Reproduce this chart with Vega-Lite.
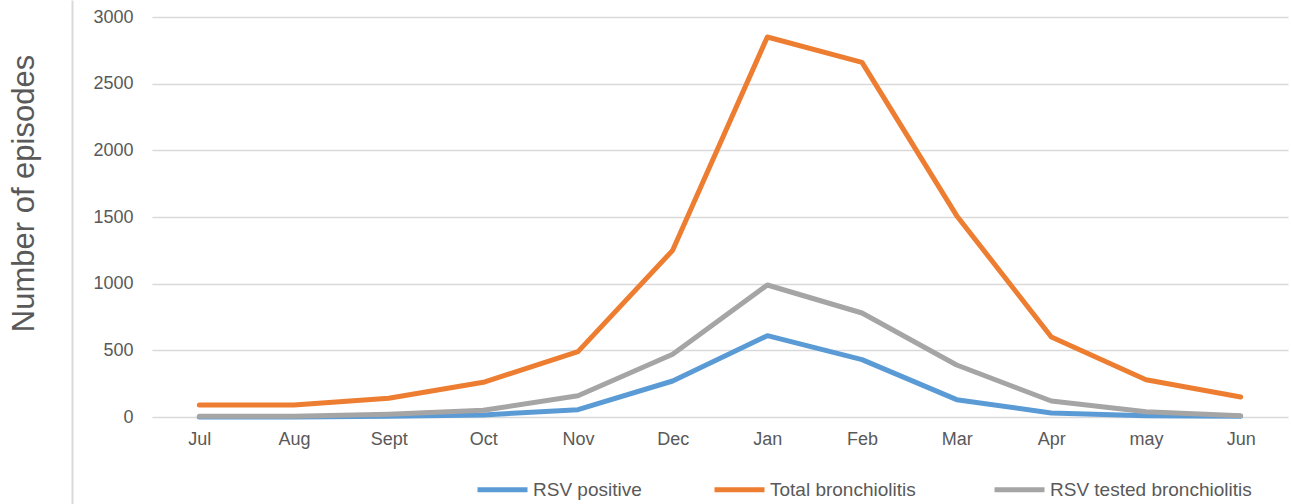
{
  "$schema": "https://vega.github.io/schema/vega-lite/v6.json",
  "width": 1136,
  "height": 504,
  "autosize": {"type": "none"},
  "padding": {"left": 152, "top": 0, "right": 3, "bottom": 0},
  "background": "white",
  "config": {
    "view": {"stroke": null},
    "font": "Liberation Sans",
    "axis": {"labelFont": "Liberation Sans", "labelColor": "#595959", "labelFontSize": 18}
  },
  "data": {
    "values": [
      {"month": "Jul", "series": "RSV positive", "value": 0},
      {"month": "Aug", "series": "RSV positive", "value": 0},
      {"month": "Sept", "series": "RSV positive", "value": 5},
      {"month": "Oct", "series": "RSV positive", "value": 15},
      {"month": "Nov", "series": "RSV positive", "value": 55},
      {"month": "Dec", "series": "RSV positive", "value": 270},
      {"month": "Jan", "series": "RSV positive", "value": 610},
      {"month": "Feb", "series": "RSV positive", "value": 430},
      {"month": "Mar", "series": "RSV positive", "value": 130},
      {"month": "Apr", "series": "RSV positive", "value": 30},
      {"month": "may", "series": "RSV positive", "value": 10},
      {"month": "Jun", "series": "RSV positive", "value": 5},
      {"month": "Jul", "series": "Total  bronchiolitis", "value": 90},
      {"month": "Aug", "series": "Total  bronchiolitis", "value": 90},
      {"month": "Sept", "series": "Total  bronchiolitis", "value": 140},
      {"month": "Oct", "series": "Total  bronchiolitis", "value": 260},
      {"month": "Nov", "series": "Total  bronchiolitis", "value": 490},
      {"month": "Dec", "series": "Total  bronchiolitis", "value": 1250},
      {"month": "Jan", "series": "Total  bronchiolitis", "value": 2850},
      {"month": "Feb", "series": "Total  bronchiolitis", "value": 2660},
      {"month": "Mar", "series": "Total  bronchiolitis", "value": 1510},
      {"month": "Apr", "series": "Total  bronchiolitis", "value": 600},
      {"month": "may", "series": "Total  bronchiolitis", "value": 280},
      {"month": "Jun", "series": "Total  bronchiolitis", "value": 150},
      {"month": "Jul", "series": "RSV tested bronchiolitis", "value": 5},
      {"month": "Aug", "series": "RSV tested bronchiolitis", "value": 5},
      {"month": "Sept", "series": "RSV tested bronchiolitis", "value": 20},
      {"month": "Oct", "series": "RSV tested bronchiolitis", "value": 50},
      {"month": "Nov", "series": "RSV tested bronchiolitis", "value": 160},
      {"month": "Dec", "series": "RSV tested bronchiolitis", "value": 470},
      {"month": "Jan", "series": "RSV tested bronchiolitis", "value": 990},
      {"month": "Feb", "series": "RSV tested bronchiolitis", "value": 780},
      {"month": "Mar", "series": "RSV tested bronchiolitis", "value": 390},
      {"month": "Apr", "series": "RSV tested bronchiolitis", "value": 120},
      {"month": "may", "series": "RSV tested bronchiolitis", "value": 40},
      {"month": "Jun", "series": "RSV tested bronchiolitis", "value": 10}
    ]
  },
  "encoding": {
    "x": {
      "field": "month",
      "type": "ordinal",
      "sort": ["Jul", "Aug", "Sept", "Oct", "Nov", "Dec", "Jan", "Feb", "Mar", "Apr", "may", "Jun"],
      "scale": {"type": "point", "padding": 0.5},
      "axis": {
        "title": null,
        "labelAngle": 0,
        "domain": false,
        "ticks": false,
        "tickSize": 0,
        "grid": false,
        "offset": -87,
        "labelPadding": 13
      }
    },
    "y": {
      "field": "value",
      "type": "quantitative",
      "scale": {"domain": [-652.5, 3127.5], "nice": false, "zero": false}
    }
  },
  "layer": [
    {
      "mark": {"type": "line", "strokeWidth": 5, "strokeCap": "round", "strokeJoin": "round"},
      "encoding": {
        "y": {
          "field": "value",
          "type": "quantitative",
          "axis": {
            "title": "Number of episodes",
            "titleFontSize": 31,
            "titleFontWeight": "normal",
            "titleColor": "#595959",
            "titleFont": "Liberation Sans",
            "titleX": -119,
            "titleY": 193,
            "titleAlign": "center",
            "titleBaseline": "alphabetic",
            "titleAngle": -90,
            "values": [0, 500, 1000, 1500, 2000, 2500, 3000],
            "format": "d",
            "domain": false,
            "ticks": false,
            "tickSize": 0,
            "labelPadding": 19,
            "grid": true,
            "gridColor": "#d9d9d9",
            "gridWidth": 1.5
          }
        },
        "color": {
          "field": "series",
          "type": "nominal",
          "scale": {
            "domain": ["RSV positive", "Total  bronchiolitis", "RSV tested bronchiolitis"],
            "range": ["#5B9BD5", "#ED7D31", "#A5A5A5"]
          },
          "legend": {
            "title": null,
            "orient": "none",
            "direction": "horizontal",
            "legendX": 323,
            "legendY": 462,
            "symbolType": "stroke",
            "symbolSize": 2500,
            "symbolStrokeWidth": 5,
            "labelFontSize": 19,
            "labelColor": "#595959",
            "labelFont": "Liberation Sans",
            "labelOffset": 3,
            "labelLimit": 0,
            "columnPadding": 62
          }
        }
      }
    },
    {
      "mark": {"type": "point", "opacity": 0},
      "encoding": {
        "y": {
          "field": "value",
          "type": "quantitative",
          "axis": {
            "orient": "left",
            "offset": 80,
            "title": null,
            "labels": false,
            "ticks": false,
            "grid": false,
            "domain": true,
            "domainColor": "#d9d9d9",
            "domainWidth": 2
          }
        }
      }
    }
  ],
  "resolve": {"axis": {"y": "independent"}}
}
